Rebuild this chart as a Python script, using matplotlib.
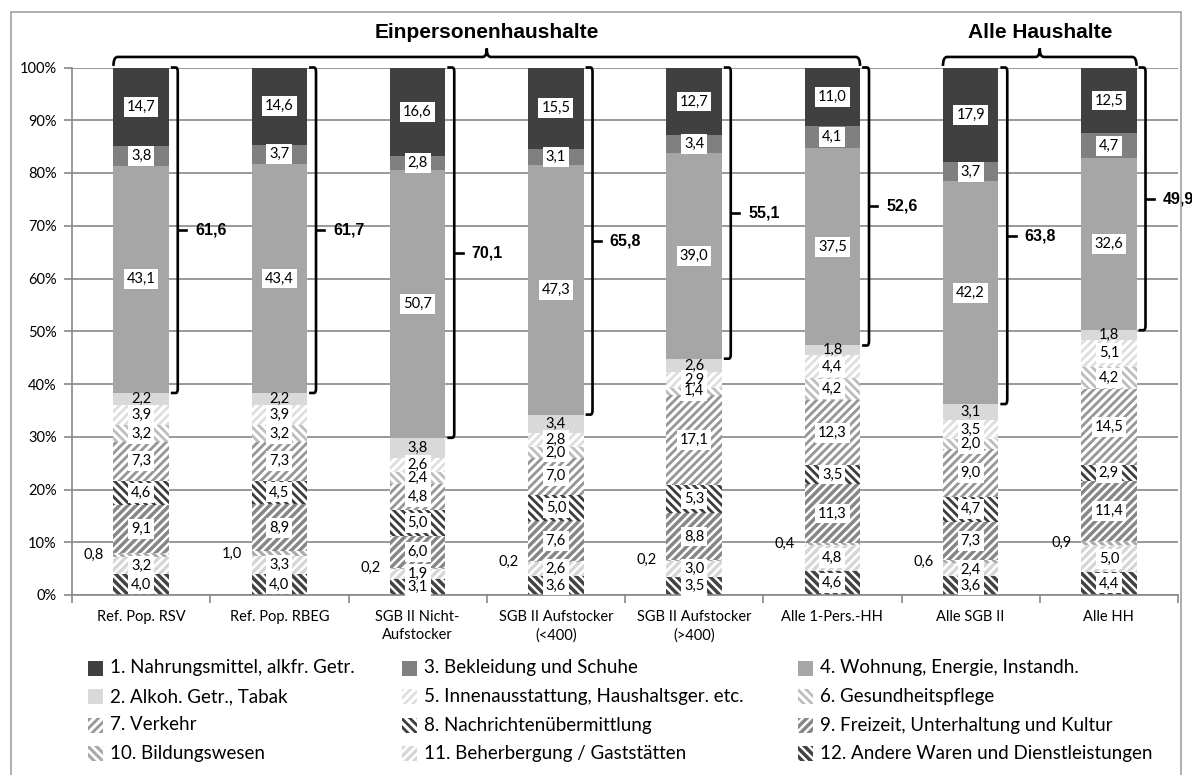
import numpy as np
import matplotlib
matplotlib.use("Agg")
from matplotlib import pyplot as plt
from matplotlib.patches import Rectangle, PathPatch
from matplotlib.path import Path

plt.rcParams['font.family'] = ['Lato', 'DejaVu Sans']

categories = ["Ref. Pop. RSV", "Ref. Pop. RBEG", "SGB II Nicht-\nAufstocker",
              "SGB II Aufstocker\n(<400)", "SGB II Aufstocker\n(>400)",
              "Alle 1-Pers.-HH", "Alle SGB II", "Alle HH"]

# shares in % per expenditure group (one value per category)
nahrung = [14.7, 14.6, 16.6, 15.5, 12.7, 11.0, 17.9, 12.5]
alkohol = [2.2, 2.2, 3.8, 3.4, 2.6, 1.8, 3.1, 1.8]
bekleidung = [3.8, 3.7, 2.8, 3.1, 3.4, 4.1, 3.7, 4.7]
wohnung = [43.1, 43.4, 50.7, 47.3, 39.0, 37.5, 42.2, 32.6]
innen = [3.9, 3.9, 2.6, 2.8, 2.9, 4.4, 3.5, 5.1]
gesundheit = [3.2, 3.2, 2.4, 2.0, 1.4, 4.2, 2.0, 4.2]
verkehr = [7.3, 7.3, 4.8, 7.0, 17.1, 12.3, 9.0, 14.5]
nachrichten = [4.6, 4.5, 5.0, 5.0, 5.3, 3.5, 4.7, 2.9]
freizeit = [9.1, 8.9, 6.0, 7.6, 8.8, 11.3, 7.3, 11.4]
bildung = [0.8, 1.0, 0.2, 0.2, 0.2, 0.4, 0.6, 0.9]
beherbergung = [3.2, 3.3, 1.9, 2.6, 3.0, 4.8, 2.4, 5.0]
andere = [4.0, 4.0, 3.1, 3.6, 3.5, 4.6, 3.6, 4.4]

bracket_values = [61.6, 61.7, 70.1, 65.8, 55.1, 52.6, 63.8, 49.9]

names = {
    1: "1. Nahrungsmittel, alkfr. Getr.",
    2: "2. Alkoh. Getr., Tabak",
    3: "3. Bekleidung und Schuhe",
    4: "4. Wohnung, Energie, Instandh.",
    5: "5. Innenausstattung, Haushaltsger. etc.",
    6: "6. Gesundheitspflege",
    7: "7. Verkehr",
    8: "8. Nachrichtenübermittlung",
    9: "9. Freizeit, Unterhaltung und Kultur",
    10: "10. Bildungswesen",
    11: "11. Beherbergung / Gaststätten",
    12: "12. Andere Waren und Dienstleistungen",
}

# stacking order from bottom to top
stack = [(12, andere), (11, beherbergung), (10, bildung), (9, freizeit),
         (8, nachrichten), (7, verkehr), (6, gesundheit), (5, innen),
         (2, alkohol), (4, wohnung), (3, bekleidung), (1, nahrung)]

FW = '////'
BW = '\\\\\\\\'
# (facecolor, hatch, hatchcolor, hatch linewidth)
styles = {
    1: ('#404040', None, None, 0),
    2: ('#d9d9d9', None, None, 0),
    3: ('#808080', None, None, 0),
    4: ('#a6a6a6', None, None, 0),
    5: ('white', FW, '#dedede', 2.0),
    6: ('white', BW, '#bdbdbd', 2.0),
    7: ('white', FW, '#969696', 2.0),
    8: ('white', BW, '#3c3c3c', 2.0),
    9: ('white', FW, '#878787', 2.5),
    10: ('white', BW, '#ababab', 2.3),
    11: ('white', FW, '#d6d6d6', 2.4),
    12: ('white', BW, '#424242', 2.5),
}


def apply_style(patch, sid):
    fc, hatch, hc, hlw = styles[sid]
    patch.set_facecolor(fc)
    if hatch:
        patch.set_hatch(hatch)
        patch.set_edgecolor(hc)
        patch.set_linewidth(0)
        if hasattr(patch, 'set_hatch_linewidth'):
            patch.set_hatch_linewidth(hlw)
    else:
        patch.set_edgecolor('none')
        patch.set_linewidth(0)


def fmt(v):
    return '{:.1f}'.format(v).replace('.', ',')


W, H = 1192, 775
fig = plt.figure(figsize=(W / 100, H / 100), dpi=100)
ax = fig.add_axes([72 / W, 1 - 595 / H, (1178 - 72) / W, (595 - 67.5) / H])

x = np.arange(len(categories))
bw = 0.4
bottom = np.zeros(len(categories))
top_of_alkohol = None
for sid, vals in stack:
    vals = np.array(vals)
    plt.rcParams['hatch.linewidth'] = styles[sid][3] if styles[sid][1] else 1.0
    bars = ax.bar(x, vals, bw, bottom=bottom, zorder=2)
    for b in bars:
        apply_style(b, sid)
    for i, b in enumerate(bars):
        yc = bottom[i] + vals[i] / 2
        if sid == 10:
            ax.annotate(fmt(vals[i]), xy=(x[i] - bw / 2, yc), xytext=(-7, 0),
                        textcoords='offset points', ha='right', va='center',
                        fontsize=10.5, color='black', zorder=6)
            continue
        if sid != 2:
            # white label box, drawn below all label texts
            ax.text(x[i], yc, fmt(vals[i]), ha='center', va='center',
                    fontsize=10.5, color='white', zorder=5,
                    bbox=dict(boxstyle='square,pad=0.2', fc='white', ec='none'))
        ax.text(x[i], yc, fmt(vals[i]), ha='center', va='center',
                fontsize=10.5, zorder=6)
    bottom = bottom + vals
    if sid == 2:
        top_of_alkohol = bottom.copy()

ax.set_xlim(-0.5, len(categories) - 0.5)
ax.set_ylim(0, 100)
ax.set_yticks(np.arange(0, 101, 10))
ax.set_yticklabels(['{}%'.format(v) for v in range(0, 101, 10)], fontsize=10.5)
ax.set_xticks(x)
ax.set_xticklabels(categories, fontsize=10.5, linespacing=1.35)
ax.set_xticks(np.arange(-0.5, len(categories), 1), minor=True)
ax.tick_params(axis='x', which='major', length=0, pad=11)
ax.tick_params(axis='x', which='minor', length=6, width=1.2, color='#888888', direction='out')
ax.tick_params(axis='y', length=6, width=1.2, color='#888888', pad=5)
ax.yaxis.grid(True, color='#888888', linewidth=1.2, zorder=0)
ax.set_axisbelow(True)
for s in ['top', 'right']:
    ax.spines[s].set_visible(False)
for s in ['left', 'bottom']:
    ax.spines[s].set_color('#888888')
    ax.spines[s].set_linewidth(1.2)

# brackets with sum of groups 4, 3, 1
for i in range(len(categories)):
    lo = top_of_alkohol[i]
    hi = 100.0
    xl = x[i] + 0.215
    xv = x[i] + 0.265
    verts = [(xl, hi), (xv - 0.015, hi), (xv, hi), (xv, hi - 0.8),
             (xv, lo + 0.8), (xv, lo), (xv - 0.015, lo), (xl, lo)]
    codes = [Path.MOVETO, Path.LINETO, Path.CURVE3, Path.CURVE3,
             Path.LINETO, Path.CURVE3, Path.CURVE3, Path.LINETO]
    ax.add_patch(PathPatch(Path(verts, codes), fill=False, lw=1.9,
                           ec='black', clip_on=False, zorder=4))
    mid = (lo + hi) / 2
    ax.plot([xv, x[i] + 0.325], [mid, mid], color='black', lw=1.9,
            clip_on=False, zorder=4)
    ax.text(x[i] + 0.39, mid, fmt(bracket_values[i]), ha='left', va='center',
            fontsize=11.5, fontweight='bold', family='Liberation Sans',
            clip_on=False, zorder=4)


def brace(x0, x1, label):
    yb = 102.0
    xc = (x0 + x1) / 2
    d = 0.03
    verts = [(x0, 100.3), (x0, yb), (x0 + d, yb),
             (xc - d, yb), (xc, yb), (xc, yb + 1.6),
             (xc, yb), (xc + d, yb),
             (x1 - d, yb), (x1, yb), (x1, 100.3)]
    codes = [Path.MOVETO, Path.CURVE3, Path.CURVE3,
             Path.LINETO, Path.CURVE3, Path.CURVE3,
             Path.CURVE3, Path.CURVE3,
             Path.LINETO, Path.CURVE3, Path.CURVE3]
    ax.add_patch(PathPatch(Path(verts, codes), fill=False, lw=1.9,
                           ec='black', clip_on=False, zorder=4))
    ax.text(xc, 106.6, label, ha='center', va='center', fontsize=15,
            fontweight='bold', family='Liberation Sans', clip_on=False)


brace(x[0] - bw / 2, x[5] + bw / 2, "Einpersonenhaushalte")
brace(x[6] - bw / 2, x[7] + bw / 2, "Alle Haushalte")

# chart frame
fig.add_artist(Rectangle((11 / W, -0.05), (1181 - 11) / W, 1.05 - 12 / H,
                         transform=fig.transFigure, fill=False,
                         ec='#a0a0a0', lw=1.2))

# legend, row-wise as in the original
legend_rows = [[1, 3, 4], [2, 5, 6], [7, 8, 9], [10, 11, 12]]
col_x = [88, 402, 798]
for r, row in enumerate(legend_rows):
    yc = 668 + 28.5 * r
    for c, sid in enumerate(row):
        plt.rcParams['hatch.linewidth'] = styles[sid][3] if styles[sid][1] else 1.0
        p = Rectangle((col_x[c] / W, 1 - (yc + 7.5) / H), 15 / W, 15 / H,
                      transform=fig.transFigure)
        apply_style(p, sid)
        fig.add_artist(p)
        fig.text((col_x[c] + 22) / W, 1 - yc / H, names[sid], ha='left',
                 va='center', fontsize=13.5)

fig.savefig('out.png', dpi=100)
